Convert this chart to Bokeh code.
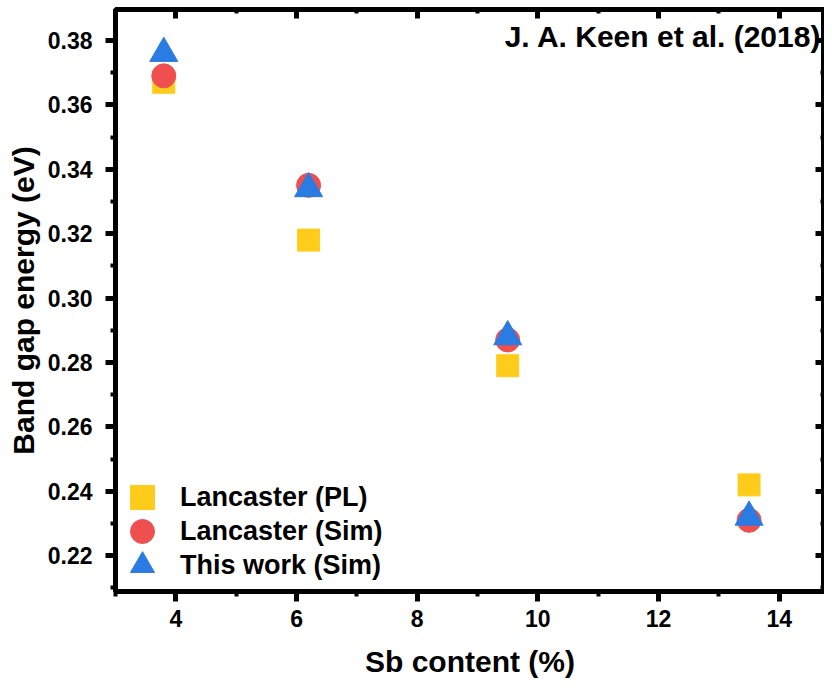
from bokeh.plotting import figure
from bokeh.models import (Range1d, LinearAxis, SingleIntervalTicker, Legend, LegendItem,
                          Label, PrintfTickFormatter)
from bokeh.embed import file_html
from bokeh.resources import INLINE

# ---- data ----
sb_content = [3.8, 6.2, 9.5, 13.5]
lancaster_pl = [0.367, 0.318, 0.279, 0.242]
lancaster_sim = [0.369, 0.335, 0.287, 0.231]
this_work_sim = [0.376, 0.334, 0.288, 0.232]
series_labels = ["Lancaster (PL)", "Lancaster (Sim)", "This work (Sim)"]
x_label = "Sb content (%)"
y_label = "Band gap energy (eV)"
annotation = "J. A. Keen et al. (2018)"

YELLOW = "#FFCC1C"
RED = "#EF4F4F"
BLUE = "#2A7BE2"
FONT = "Liberation Sans"
LW = 5

X0, X1 = 3, 14.75
Y0, Y1 = 0.2089, 0.3896

p = figure(width=824, height=680, x_range=Range1d(X0, X1), y_range=Range1d(Y0, Y1),
           output_backend="svg", toolbar_location=None,
           min_border_left=115, min_border_right=0, min_border_top=9, min_border_bottom=87)
p.outline_line_color = "black"
p.outline_line_width = LW
p.outline_line_alpha = 1.0
p.background_fill_color = "white"
p.grid.visible = False


def style(ax, outer=True):
    ax.axis_line_width = LW
    ax.axis_line_color = "black"
    ax.major_tick_line_width = LW
    ax.minor_tick_line_width = 4
    ax.major_tick_line_color = "black"
    ax.minor_tick_line_color = "black"
    if outer:
        ax.major_tick_out = 10
        ax.major_tick_in = 0
        ax.minor_tick_out = 5
        ax.minor_tick_in = 0
        ax.major_label_text_font = FONT
        ax.major_label_text_font_style = "bold"
        ax.major_label_text_font_size = "23px"
        ax.major_label_text_color = "black"
        ax.axis_label_text_font = FONT
        ax.axis_label_text_font_style = "bold"
        ax.axis_label_text_font_size = "30px"
        ax.axis_label_text_color = "black"
    else:
        ax.major_tick_out = 0
        ax.major_tick_in = 9
        ax.minor_tick_out = 0
        ax.minor_tick_in = 4
        ax.major_label_text_font_size = "1px"
        ax.major_label_text_color = None
        ax.major_label_standoff = 0


xb = p.xaxis[0]
xb.ticker = SingleIntervalTicker(interval=2, num_minor_ticks=2)
xb.axis_label = x_label
style(xb)
xb.major_label_standoff = 8
xb.axis_label_standoff = 15

yl = p.yaxis[0]
yl.ticker = SingleIntervalTicker(interval=0.02, num_minor_ticks=2)
yl.formatter = PrintfTickFormatter(format="%.2f")
yl.axis_label = y_label
style(yl)
yl.major_label_standoff = 13
yl.axis_label_standoff = 5

xt = LinearAxis(ticker=SingleIntervalTicker(interval=2, num_minor_ticks=2))
style(xt, outer=False)
p.add_layout(xt, "above")

yr = LinearAxis(ticker=SingleIntervalTicker(interval=0.02, num_minor_ticks=2))
style(yr, outer=False)
p.add_layout(yr, "right")

r_sq = p.scatter(sb_content, lancaster_pl, marker="square", size=22,
                 fill_color=YELLOW, line_color=YELLOW)
r_ci = p.scatter(sb_content, lancaster_sim, marker="circle", size=24,
                 fill_color=RED, line_color=RED)
r_tr = p.scatter(sb_content, this_work_sim, marker="triangle", size=28,
                 fill_color=BLUE, line_color=BLUE)

# one legend per entry so that the row pitch can be tighter than the glyph box
for i, (lab, rend) in enumerate(zip(series_labels, [r_sq, r_ci, r_tr])):
    lg = Legend(items=[LegendItem(label=lab, renderers=[rend])],
                location=(-3, 64 - 34 * i), glyph_width=60, glyph_height=60, label_height=20,
                padding=0, margin=0, label_standoff=8, spacing=0,
                border_line_color=None, background_fill_alpha=0,
                label_text_font=FONT, label_text_font_style="bold",
                label_text_font_size="27px", label_text_color="black")
    p.add_layout(lg)

p.add_layout(Label(x=14.7, y=0.3812, text=annotation, text_align="right", text_baseline="middle",
                   text_font=FONT, text_font_style="bold", text_font_size="30px", text_color="black"))

open("out.html", "w").write(file_html(p, INLINE))
